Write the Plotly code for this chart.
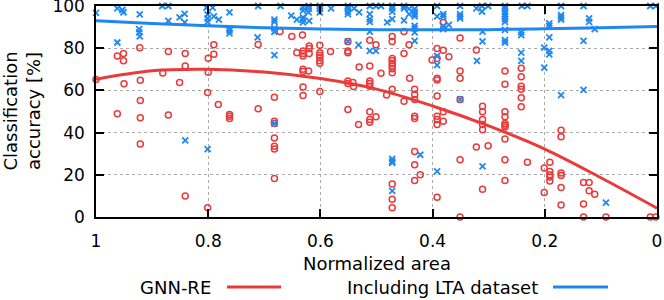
import plotly.graph_objects as go

# ---- data ----
red_x = [1.0, 0.962, 0.951, 0.951, 0.922, 0.871, 0.841, 0.841, 0.881, 0.921, 0.950, 0.851,
         0.921, 0.800, 0.790, 0.790, 0.800, 0.801, 0.782, 0.711, 0.672, 0.682, 0.711, 0.962,
         0.921, 0.871, 0.762, 0.762, 0.762, 0.682, 0.682, 0.682, 0.682, 0.682, 0.682, 0.921,
         0.841, 0.801,
         0.651, 0.632, 0.620, 0.620, 0.642, 0.631, 0.631, 0.631, 0.620, 0.601, 0.601, 0.601,
         0.601, 0.601, 0.601, 0.582, 0.551, 0.551, 0.551, 0.631, 0.631, 0.621, 0.631, 0.631,
         0.601, 0.551, 0.551, 0.542, 0.541, 0.531, 0.512, 0.512, 0.501, 0.512, 0.512, 0.512,
         0.492, 0.472, 0.472, 0.472, 0.472, 0.472, 0.472, 0.472, 0.472, 0.472, 0.482, 0.451,
         0.451, 0.442, 0.441, 0.432, 0.432, 0.432, 0.451, 0.401, 0.392, 0.392, 0.381, 0.381,
         0.392, 0.392, 0.392, 0.371, 0.351, 0.351, 0.351, 0.322, 0.551, 0.512, 0.512, 0.512,
         0.501, 0.532, 0.432, 0.432, 0.392, 0.392, 0.392, 0.381, 0.381, 0.351, 0.322, 0.351,
         0.432, 0.432, 0.422, 0.432, 0.472, 0.472, 0.472, 0.392, 0.351,
         0.271, 0.242, 0.242, 0.271, 0.242, 0.242, 0.242, 0.242, 0.311, 0.311, 0.311, 0.311,
         0.311, 0.271, 0.271, 0.271, 0.271, 0.271, 0.301, 0.271, 0.271, 0.231, 0.271, 0.311,
         0.171, 0.171, 0.191, 0.201, 0.191, 0.191, 0.191, 0.191, 0.201, 0.171, 0.171, 0.171,
         0.171, 0.131, 0.121, 0.121, 0.111, 0.131, 0.131, 0.091, 0.012, 0.002]
red_y = [65.2, 76.3, 77.5, 74.0, 80.2, 78.4, 77.5, 71.6, 68.2, 64.8, 63.2, 63.8,
         55.2, 75.2, 81.6, 77.1, 68.6, 59.0, 53.3, 81.8, 87.9, 56.8, 51.3, 48.9,
         47.0, 48.4, 48.6, 47.8, 46.7, 45.4, 44.3, 37.5, 33.5, 32.2, 18.2, 34.6,
         10.0, 4.4,
         85.6, 86.3, 81.1, 79.9, 77.9, 78.7, 77.5, 76.3, 77.5, 81.4, 77.9, 76.7,
         75.6, 74.0, 72.9, 78.4, 78.7, 77.9, 83.2, 70.0, 68.9, 69.2, 61.6, 57.6,
         59.5, 64.4, 63.3, 63.7, 61.8, 71.1, 71.6, 83.8, 81.6, 64.4, 63.3, 62.0,
         68.1, 85.6, 83.2, 75.1, 74.0, 72.7, 71.6, 70.3, 68.4, 60.5, 57.8, 87.9,
         77.5, 81.6, 65.7, 60.5, 58.1, 55.7, 54.9, 74.4, 79.9, 75.1, 92.2, 79.0,
         65.7, 64.9, 57.3, 75.9, 84.8, 69.2, 65.7, 79.2, 51.0, 49.9, 46.2, 44.9,
         47.5, 43.8, 47.8, 46.7, 47.8, 46.2, 43.8, 49.9, 45.4, 55.7, 33.2, 27.1,
         31.1, 24.8, 20.0, 17.3, 15.6, 8.4, 4.4, 9.4, 0.0,
         69.2, 70.5, 66.5, 62.9, 62.0, 60.5, 56.5, 52.2, 52.5, 49.9, 46.2, 43.8,
         41.4, 49.9, 47.5, 44.3, 43.5, 42.7, 33.8, 37.0, 27.1, 26.0, 17.3, 13.2,
         41.1, 38.0, 26.0, 23.2, 21.6, 20.0, 18.9, 17.1, 11.6, 20.8, 19.7, 14.0,
         5.7, 16.3, 16.3, 12.4, 10.8, 6.2, 0.0, 0.0, 0.0, 0.0]

blue_x = [1.0, 0.962, 0.953, 0.951, 0.922, 0.882, 0.871, 0.871, 0.851, 0.842, 0.842,
          0.803, 0.792, 0.801, 0.801, 0.801, 0.790, 0.781, 0.762, 0.762, 0.762, 0.762,
          0.711, 0.671, 0.682, 0.682, 0.682, 0.682, 0.712, 0.962, 0.923, 0.923, 0.922,
          0.682, 0.841, 0.801, 0.682,
          0.652, 0.642, 0.631, 0.631, 0.631, 0.631, 0.631, 0.621, 0.621, 0.621, 0.620,
          0.601, 0.601, 0.601, 0.581, 0.551, 0.551, 0.551, 0.551, 0.540, 0.531, 0.512,
          0.501, 0.492, 0.512, 0.512, 0.512, 0.512, 0.481, 0.472, 0.472, 0.472, 0.472,
          0.451, 0.451, 0.451, 0.442, 0.442, 0.432, 0.432, 0.432, 0.432, 0.432, 0.432,
          0.432, 0.432, 0.392, 0.392, 0.381, 0.381, 0.381, 0.381, 0.371, 0.351, 0.351,
          0.351, 0.351, 0.551, 0.532, 0.512, 0.501, 0.392, 0.392, 0.321, 0.351, 0.472,
          0.472, 0.472, 0.422, 0.392, 0.472,
          0.322, 0.312, 0.312, 0.301, 0.271, 0.271, 0.271, 0.271, 0.271, 0.271, 0.271,
          0.241, 0.231, 0.311, 0.311, 0.271, 0.271, 0.271, 0.242, 0.242, 0.192, 0.192,
          0.192, 0.201, 0.192, 0.192, 0.171, 0.171, 0.171, 0.171, 0.131, 0.121, 0.121,
          0.111, 0.131, 0.012, 0.002, 0.242, 0.242, 0.201, 0.131, 0.171, 0.311, 0.091]
blue_y = [96.7, 98.9, 98.1, 97.0, 96.0, 100, 100, 92.9, 94.6, 96.3, 92.2,
          99.2, 99.2, 95.9, 94.1, 92.5, 95.1, 93.5, 97.0, 89.4, 88.3, 87.0,
          100, 100, 93.5, 92.5, 89.4, 87.8, 85.1, 82.7, 89.0, 87.5, 85.6,
          76.7, 36.3, 32.2, 44.3,
          95.4, 93.5, 99.4, 97.8, 94.6, 93.5, 92.2, 100, 98.6, 97.0, 93.0,
          100, 98.6, 97.0, 98.9, 100, 98.9, 97.3, 96.2, 98.9, 97.0, 100,
          100, 100, 96.2, 93.8, 92.5, 87.9, 92.2, 100, 98.9, 97.3, 93.8,
          100, 98.9, 93.2, 98.6, 96.2, 98.6, 97.3, 96.2, 95.1, 90.6, 89.4,
          87.5, 83.5, 100, 95.1, 96.2, 95.1, 90.6, 89.0, 91.1, 100, 96.2,
          95.1, 94.1, 83.2, 81.6, 78.7, 78.7, 76.3, 72.0, 74.0, 55.7, 27.5,
          26.3, 25.6, 29.5, 21.6, 12.4,
          98.9, 100, 97.4, 100, 100, 98.9, 97.3, 96.2, 95.1, 93.8, 92.5,
          100, 100, 87.9, 83.2, 88.7, 83.8, 82.7, 87.5, 86.2, 91.8, 90.6,
          85.1, 80.3, 78.7, 77.1, 100, 95.7, 94.6, 93.5, 100, 94.1, 92.5,
          89.0, 83.5, 100, 100, 77.9, 74.0, 70.8, 60.2, 57.8, 24.0, 6.8]

# trend curves
fit_x = [1.0, 0.9, 0.8, 0.7, 0.6, 0.5, 0.4, 0.3, 0.2, 0.1, 0.0]
red_fit_y = [65.3, 69.3, 70.0, 68.7, 65.6, 60.6, 52.6, 43.2, 32.2, 18.6, 4.2]
blue_fit_y = [93.0, 91.7, 90.6, 89.7, 89.1, 88.8, 88.7, 88.8, 89.2, 89.7, 90.3]

x_ticks = [1, 0.8, 0.6, 0.4, 0.2, 0]
x_tick_labels = ["1", "0.8", "0.6", "0.4", "0.2", "0"]
y_ticks = [0, 20, 40, 60, 80, 100]

RED = "#ea3a3a"
BLUE = "#1e88f0"
FONT = "DejaVu Sans"
TICK_SIZE = 17
TEXT_SIZE = 18

fig = go.Figure()
fig.add_trace(go.Scatter(x=red_x, y=red_y, mode="markers", cliponaxis=False,
                         marker=dict(symbol="circle-open", size=6, color=RED,
                                     line=dict(width=1.5, color=RED)),
                         showlegend=False))
fig.add_trace(go.Scatter(x=fit_x, y=red_fit_y, mode="lines", line_shape="spline",
                         line=dict(color=RED, width=3), showlegend=False))
fig.add_trace(go.Scatter(x=blue_x, y=blue_y, mode="markers", cliponaxis=False,
                         marker=dict(symbol="x-thin-open", size=6, color=BLUE,
                                     line=dict(width=1.8, color=BLUE)),
                         showlegend=False))
fig.add_trace(go.Scatter(x=fit_x, y=blue_fit_y, mode="lines", line_shape="spline",
                         line=dict(color=BLUE, width=3), showlegend=False))

axis_common = dict(showline=True, linecolor="black", linewidth=1.5, mirror="ticks",
                   ticks="inside", ticklen=8, tickwidth=1.5, tickcolor="black",
                   showgrid=True, gridcolor="#aaaaaa", griddash="dot", gridwidth=1,
                   zeroline=False, ticklabeloverflow="allow",
                   tickfont=dict(family=FONT, size=TICK_SIZE, color="black"))

fig.update_xaxes(range=[1, 0], tickvals=x_ticks, ticktext=x_tick_labels,
                 ticklabelstandoff=8, **axis_common)
fig.update_yaxes(range=[0, 100], tickvals=y_ticks, ticklabelstandoff=6, **axis_common)

W, H = 664, 300
L, R, T, B = 96, 7, 6, 83
pw, ph = W - L - R, H - T - B


def px(xp):
    return (xp - L) / pw


def py(yp):
    return (H - B - yp) / ph


fig.add_annotation(text="Normalized area", xref="paper", yref="paper",
                   x=px(376.5), y=py(263), showarrow=False,
                   font=dict(family=FONT, size=TEXT_SIZE, color="black"),
                   xanchor="center", yanchor="middle")
fig.add_annotation(text="Classification<br>accuracy [%]", xref="paper", yref="paper",
                   x=px(21), y=0.5, textangle=-90, showarrow=False,
                   font=dict(family=FONT, size=TEXT_SIZE, color="black"),
                   xanchor="center", yanchor="middle")

# legend (text followed by line sample)
fig.add_annotation(text="GNN-RE", xref="paper", yref="paper", x=px(213), y=py(287),
                   showarrow=False, xanchor="right", yanchor="middle",
                   font=dict(family=FONT, size=TEXT_SIZE, color="black"))
fig.add_shape(type="line", xref="paper", yref="paper", x0=px(227), x1=px(281),
              y0=py(287), y1=py(287), line=dict(color=RED, width=3))
fig.add_annotation(text="Including LTA dataset", xref="paper", yref="paper", x=px(540),
                   y=py(287), showarrow=False, xanchor="right", yanchor="middle",
                   font=dict(family=FONT, size=TEXT_SIZE, color="black"))
fig.add_shape(type="line", xref="paper", yref="paper", x0=px(553), x1=px(608),
              y0=py(287), y1=py(287), line=dict(color=BLUE, width=3))

fig.update_layout(width=W, height=H, margin=dict(l=L, r=R, t=T, b=B, autoexpand=False),
                  plot_bgcolor="white", paper_bgcolor="white", showlegend=False,
                  font=dict(family=FONT, size=TICK_SIZE, color="black"))

fig.write_html("out.html", config={"displayModeBar": False},
               post_script="document.body.style.margin='0';document.body.style.overflow='hidden';")
